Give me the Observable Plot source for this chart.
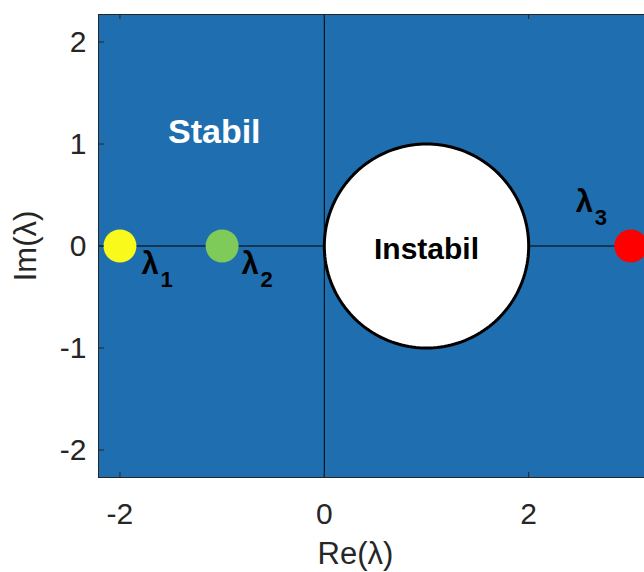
<!DOCTYPE html>
<html><head><meta charset="utf-8">
<script src="https://cdn.jsdelivr.net/npm/d3@7"></script>
<script src="https://cdn.jsdelivr.net/npm/@observablehq/plot@0.6"></script>
<style>
html,body{margin:0;padding:0;background:#fff;overflow:hidden}
#chart{width:644px;height:572px;overflow:hidden}
#chart svg{max-width:none !important;}
</style></head><body><div id="chart"></div>
<script>
// ---- data ----
const xTicks = [-2, 0, 2];
const yTicks = [-2, -1, 0, 1, 2];
const eigNames = ["λ", "λ", "λ"];
const eigSubs = ["1", "2", "3"];
const eigRe = [-2, -1, 3];
const eigIm = [0, 0, 0];
const labelRe = [-1.79, -0.81, 2.46];
const labelIm = [-0.18, -0.18, 0.43];
const regionNames = ["Stabil", "Instabil"];
const regionRe = [-1.53, 1];
const regionIm = [1.12, 0];
const circleCenterRe = 1, circleCenterIm = 0, circleRadius = 1;
const xDomain = [-2.21, 3.3];
const yDomain = [-2.27, 2.27];
const xLabel = "Re(λ)", yLabel = "Im(λ)";

// ---- styles ----
const eigColors = ["#f9f91b", "#7fcb59", "#ff0000"];
const blue = "#1f6fb0";
const axisColor = "#262626";
const W = 661, H = 572, mL = 98, mR = 0, mT = 14, mB = 95;
const plotW = W - mL - mR, plotH = H - mT - mB;

const eig = eigRe.map((x, i) => ({x, y: eigIm[i], color: eigColors[i], name: eigNames[i], sub: eigSubs[i], lx: labelRe[i], ly: labelIm[i]}));
const regions = regionNames.map((t, i) => ({t, x: regionRe[i], y: regionIm[i]}));
const circle = d3.range(0, 360, 2).map(a => ({
  x: circleCenterRe + circleRadius * Math.cos(a * Math.PI / 180),
  y: circleCenterIm + circleRadius * Math.sin(a * Math.PI / 180)
}));

const chart = Plot.plot({
  width: W, height: H,
  marginLeft: mL, marginRight: mR, marginTop: mT, marginBottom: mB,
  x: {domain: xDomain},
  y: {domain: yDomain},
  color: {type: "identity"},
  style: {fontFamily: "'Liberation Sans', Arial, Helvetica, sans-serif", background: "#fff", color: axisColor, maxWidth: "none"},
  marks: [
    Plot.frame({fill: blue}),
    Plot.ruleY([0], {stroke: "black", strokeWidth: 1}),
    Plot.ruleX([0], {stroke: "black", strokeWidth: 1}),
    Plot.line(circle, {x: "x", y: "y", curve: "linear-closed", fill: "white", stroke: "black", strokeWidth: 3}),
    Plot.dot(eig, {x: "x", y: "y", r: 16.5, fill: "color", stroke: null}),
    Plot.text(eig, {x: "lx", y: "ly", text: "name", textAnchor: "start", fontSize: 31, fontWeight: "bold", fill: "black"}),
    Plot.text(eig, {x: "lx", y: "ly", text: "sub", textAnchor: "start", fontSize: 22, fontWeight: "bold", fill: "black", dx: 19, dy: 16}),
    Plot.text(regions.slice(0, 1), {x: "x", y: "y", text: "t", textAnchor: "start", fontSize: 34, fontWeight: "bold", fill: "white"}),
    Plot.text(regions.slice(1), {x: "x", y: "y", text: "t", textAnchor: "middle", fontSize: 30, fontWeight: "bold", fill: "black", dy: 3}),
    Plot.tickX(xTicks, {x: d => d, insetTop: plotH - 5, stroke: axisColor}),
    Plot.tickX(xTicks, {x: d => d, insetBottom: plotH - 5, stroke: axisColor}),
    Plot.tickY(yTicks, {y: d => d, insetRight: plotW - 6, stroke: axisColor}),
    Plot.axisX({ticks: xTicks, tickSize: 0, tickPadding: 25, tickFormat: d => String(d), fontSize: 30, label: null, fill: axisColor}),
    Plot.axisY({ticks: yTicks, tickSize: 0, tickPadding: 12, tickFormat: d => String(d), fontSize: 30, label: null, fill: axisColor}),
    Plot.text([xLabel], {text: d => d, frameAnchor: "bottom-left", textAnchor: "middle", lineAnchor: "middle", dx: 257, dy: 77, fontSize: 31, fill: axisColor}),
    Plot.text([yLabel], {text: d => d, frameAnchor: "left", textAnchor: "middle", lineAnchor: "middle", rotate: -90, dx: -72, fontSize: 31, fill: axisColor}),
    Plot.frame({stroke: axisColor, strokeWidth: 1})
  ]
});
document.getElementById("chart").appendChild(chart);
</script></body></html>
